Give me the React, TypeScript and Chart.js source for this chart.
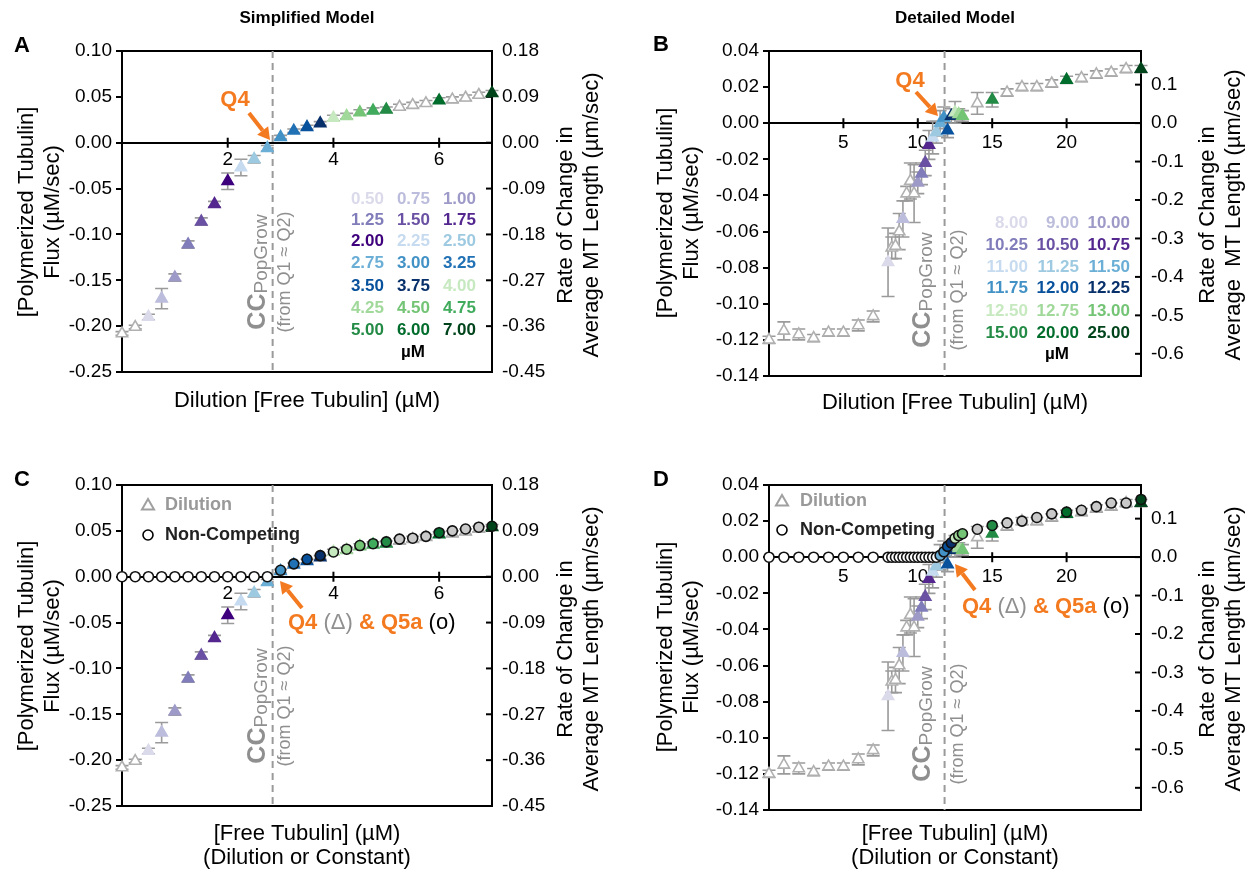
import React, { useEffect, useRef } from "react";
import { Chart, registerables } from "chart.js";
Chart.register(...registerables);

const FONT = '"Liberation Sans", Arial, Helvetica, sans-serif';
const W = 1253;
const H = 874;
const ORANGE = "#f47a20";
const GREY_TXT = "#8f8f8f";

// ---------- Simplified model (panels A, C) ----------
const simpConc = [0, 0.25, 0.5, 0.75, 1, 1.25, 1.5, 1.75, 2, 2.25, 2.5, 2.75, 3, 3.25, 3.5, 3.75, 4, 4.25, 4.5, 4.75, 5, 5.25, 5.5, 5.75, 6, 6.25, 6.5, 6.75, 7];
const simpFlux = [-0.208, -0.201, -0.19, -0.17, -0.147, -0.111, -0.086, -0.067, -0.042, -0.027, -0.018, -0.006, 0.006, 0.013, 0.017, 0.021, 0.027, 0.029, 0.033, 0.035, 0.036, 0.039, 0.041, 0.043, 0.046, 0.047, 0.049, 0.052, 0.054];
const simpErr = [0.002, 0.002, 0.003, 0.011, 0.004, 0.004, 0.004, 0.003, 0.009, 0.009, 0.004, 0.003, 0.002, 0.002, 0.002, 0.002, 0.003, 0.003, 0.003, 0.003, 0.003, 0.003, 0.003, 0.003, 0.003, 0.003, 0.003, 0.003, 0.003];
const simpNcConc = [0, 0.25, 0.5, 0.75, 1, 1.25, 1.5, 1.75, 2, 2.25, 2.5, 2.75, 3, 3.25, 3.5, 3.75, 4, 4.25, 4.5, 4.75, 5, 5.25, 5.5, 5.75, 6, 6.25, 6.5, 6.75, 7];
const simpNcFlux = [0, 0, 0, 0, 0, 0, 0, 0, 0, 0, 0, 0, 0.007, 0.014, 0.019, 0.023, 0.027, 0.03, 0.034, 0.036, 0.038, 0.041, 0.042, 0.044, 0.048, 0.05, 0.052, 0.054, 0.055];
const simpCC = 2.85;
const simpConcTicks = [2, 4, 6];
const simpFluxTicks = [-0.25, -0.2, -0.15, -0.1, -0.05, 0, 0.05, 0.1];
const simpRateTicks = [-0.45, -0.36, -0.27, -0.18, -0.09, 0, 0.09, 0.18];
const simpLegend = [
  ["0.50", "0.75", "1.00"],
  ["1.25", "1.50", "1.75"],
  ["2.00", "2.25", "2.50"],
  ["2.75", "3.00", "3.25"],
  ["3.50", "3.75", "4.00"],
  ["4.25", "4.50", "4.75"],
  ["5.00", "6.00", "7.00"],
];
const simpColors: Record<string, string> = {
  "0.50": "#dadaeb", "0.75": "#bcbddc", "1.00": "#9e9ac8",
  "1.25": "#807dba", "1.50": "#6a51a3", "1.75": "#54278f",
  "2.00": "#3f007d", "2.25": "#c6dbef", "2.50": "#9ecae1",
  "2.75": "#6baed6", "3.00": "#4292c6", "3.25": "#2171b5",
  "3.50": "#08519c", "3.75": "#08306b", "4.00": "#c7e9c0",
  "4.25": "#a1d99b", "4.50": "#74c476", "4.75": "#41ab5d",
  "5.00": "#238b45", "6.00": "#006d2c", "7.00": "#00441b",
};

// ---------- Detailed model (panels B, D) ----------
const detConc = [0, 1, 2, 3, 4, 5, 6, 7, 8, 8.25, 8.5, 8.75, 9, 9.25, 9.5, 9.75, 10, 10.25, 10.5, 10.75, 11, 11.25, 11.5, 11.75, 12, 12.25, 12.5, 12.75, 13, 14, 15, 16, 17, 18, 19, 20, 21, 22, 23, 24, 25];
const detFlux = [-0.12, -0.115, -0.117, -0.119, -0.116, -0.116, -0.112, -0.107, -0.077, -0.069, -0.068, -0.06, -0.053, -0.039, -0.032, -0.039, -0.033, -0.028, -0.022, -0.012, -0.008, -0.005, 0.0, 0.003, -0.004, 0.004, 0.006, 0.005, 0.004, 0.011, 0.013, 0.017, 0.02, 0.02, 0.022, 0.024, 0.025, 0.027, 0.028, 0.03, 0.03];
const detErr = [0.002, 0.005, 0.003, 0.002, 0.002, 0.002, 0.003, 0.003, 0.019, 0.006, 0.007, 0.01, 0.01, 0.004, 0.01, 0.016, 0.006, 0.006, 0.007, 0.008, 0.009, 0.006, 0.007, 0.006, 0.004, 0.004, 0.006, 0.003, 0.003, 0.006, 0.004, 0.002, 0.002, 0.002, 0.002, 0.002, 0.002, 0.002, 0.002, 0.002, 0.002];
const detNcConc = [0, 1, 2, 3, 4, 5, 6, 7, 8, 8.25, 8.5, 8.75, 9, 9.25, 9.5, 9.75, 10, 10.25, 10.5, 10.75, 11, 11.25, 11.5, 11.75, 12, 12.25, 12.5, 12.75, 13, 14, 15, 16, 17, 18, 19, 20, 21, 22, 23, 24, 25];
const detNcFlux = [0, 0, 0, 0, 0, 0, 0, 0, 0, 0, 0, 0, 0, 0, 0, 0, 0, 0, 0, 0, 0, 0, 0.001, 0.003, 0.006, 0.008, 0.0105, 0.012, 0.013, 0.0155, 0.0176, 0.019, 0.02, 0.022, 0.024, 0.025, 0.026, 0.028, 0.03, 0.03, 0.032];
const detCC = 11.8;
const detConcTicks = [5, 10, 15, 20];
const detFluxTicks = [-0.14, -0.12, -0.1, -0.08, -0.06, -0.04, -0.02, 0, 0.02, 0.04];
const detRateTicks = [-0.6, -0.5, -0.4, -0.3, -0.2, -0.1, 0, 0.1];
const detLegend = [
  ["8.00", "9.00", "10.00"],
  ["10.25", "10.50", "10.75"],
  ["11.00", "11.25", "11.50"],
  ["11.75", "12.00", "12.25"],
  ["12.50", "12.75", "13.00"],
  ["15.00", "20.00", "25.00"],
];
const detColors: Record<string, string> = {
  "8.00": "#dadaeb", "9.00": "#bcbddc", "10.00": "#9e9ac8",
  "10.25": "#807dba", "10.50": "#6a51a3", "10.75": "#54278f",
  "11.00": "#c6dbef", "11.25": "#9ecae1", "11.50": "#6baed6",
  "11.75": "#4292c6", "12.00": "#08519c", "12.25": "#08306b",
  "12.50": "#c7e9c0", "12.75": "#a1d99b", "13.00": "#74c476",
  "15.00": "#238b45", "20.00": "#006d2c", "25.00": "#00441b",
};

type Area = { left: number; right: number; top: number; bottom: number };
type Spec = {
  area: Area;
  xMax: number;
  xTicks: number[];
  xPad: number;
  yMin: number; yMax: number; yTicks: number[]; yDigits: number;
  y1Min: number; y1Max: number; y1Ticks: number[]; y1Digits: number;
  conc: number[]; flux: number[]; err: number[];
  colors: Record<string, string>;
  nc?: { conc: number[]; flux: number[] };
  cc: number;
  ccText: { x1: number; x2: number; y: number };
  letter: { t: string; x: number; y: number };
  title?: { t: string; x: number; y: number };
  leftTitle: { xs: number[]; y: number };
  rightTitle: { lines: string[]; xs: number[]; y: number };
  bottom: { t: string; x: number; y: number }[];
  table?: { rows: string[][]; right: number[]; rowY: number[]; unit: { x: number; y: number } };
  q4?: { x: number; y: number; a: number[] };
  q45?: { x: number; y: number; a: number[] };
  legend?: { x: number; ty: number; cy: number; tx: number };
};

function drawText(ctx: CanvasRenderingContext2D, text: string, x: number, y: number, size: number, o: any = {}) {
  ctx.save();
  ctx.font = `${o.bold ? "bold " : ""}${size}px ${FONT}`;
  ctx.fillStyle = o.color || "#000";
  ctx.textAlign = o.align || "center";
  ctx.textBaseline = "middle";
  ctx.translate(x, y);
  if (o.rotate) ctx.rotate(-Math.PI / 2);
  ctx.fillText(text, 0, 0);
  ctx.restore();
}

function drawArrow(ctx: CanvasRenderingContext2D, a: number[]) {
  const [x1, y1, x2, y2] = a;
  const ang = Math.atan2(y2 - y1, x2 - x1);
  const head = 12, hw = 7;
  const bx = x2 - head * Math.cos(ang), by = y2 - head * Math.sin(ang);
  ctx.save();
  ctx.strokeStyle = ORANGE; ctx.fillStyle = ORANGE; ctx.lineWidth = 4;
  ctx.beginPath(); ctx.moveTo(x1, y1); ctx.lineTo(bx, by); ctx.stroke();
  ctx.beginPath();
  ctx.moveTo(x2, y2);
  ctx.lineTo(bx + hw * Math.sin(ang), by - hw * Math.cos(ang));
  ctx.lineTo(bx - hw * Math.sin(ang), by + hw * Math.cos(ang));
  ctx.closePath(); ctx.fill();
  ctx.restore();
}

function drawTriangle(ctx: CanvasRenderingContext2D, x: number, y: number, r: number, stroke: string) {
  ctx.save();
  ctx.strokeStyle = stroke; ctx.lineWidth = 2; ctx.fillStyle = "#fff";
  ctx.beginPath();
  ctx.moveTo(x, y - r);
  ctx.lineTo(x + r * 0.866, y + r / 2);
  ctx.lineTo(x - r * 0.866, y + r / 2);
  ctx.closePath(); ctx.fill(); ctx.stroke();
  ctx.restore();
}

function makePlugin(s: Spec) {
  return {
    id: "deco",
    beforeDatasetsDraw(chart: any) {
      const ctx: CanvasRenderingContext2D = chart.ctx;
      const a = chart.chartArea;
      const xs = chart.scales.x, ys = chart.scales.y, y1 = chart.scales.y1;
      ctx.save();
      ctx.strokeStyle = "#000"; ctx.lineWidth = 2;
      ctx.strokeRect(a.left, a.top, a.right - a.left, a.bottom - a.top);
      for (const v of s.y1Ticks) {
        const py = y1.getPixelForValue(v);
        ctx.beginPath(); ctx.moveTo(a.right - 6, py); ctx.lineTo(a.right, py); ctx.stroke();
      }
      const y0 = ys.getPixelForValue(0);
      for (const v of s.xTicks) {
        const px = xs.getPixelForValue(v);
        ctx.beginPath(); ctx.moveTo(px, y0 - 5); ctx.lineTo(px, y0 + 5); ctx.stroke();
      }
      const cx = xs.getPixelForValue(s.cc);
      ctx.strokeStyle = "#9a9a9a"; ctx.lineWidth = 2; ctx.setLineDash([7, 5]);
      ctx.beginPath(); ctx.moveTo(cx, a.top); ctx.lineTo(cx, a.bottom); ctx.stroke();
      ctx.setLineDash([]);
      ctx.strokeStyle = "#9a9a9a"; ctx.lineWidth = 1.6;
      s.conc.forEach((c, i) => {
        const e = s.err[i];
        const px = xs.getPixelForValue(c);
        const pt = ys.getPixelForValue(s.flux[i] + e);
        const pb = ys.getPixelForValue(s.flux[i] - e);
        ctx.beginPath();
        ctx.moveTo(px, pt); ctx.lineTo(px, pb);
        ctx.moveTo(px - 6.5, pt); ctx.lineTo(px + 6.5, pt);
        ctx.moveTo(px - 6.5, pb); ctx.lineTo(px + 6.5, pb);
        ctx.stroke();
      });
      ctx.restore();
    },
    afterDraw(chart: any) {
      const ctx: CanvasRenderingContext2D = chart.ctx;
      if (s.title) drawText(ctx, s.title.t, s.title.x, s.title.y, 17, { bold: true });
      drawText(ctx, s.letter.t, s.letter.x, s.letter.y, 22, { bold: true });
      drawText(ctx, "[Polymerized Tubulin]", s.leftTitle.xs[0], s.leftTitle.y, 22, { rotate: true });
      drawText(ctx, "Flux (µM/sec)", s.leftTitle.xs[1], s.leftTitle.y, 22, { rotate: true });
      drawText(ctx, s.rightTitle.lines[0], s.rightTitle.xs[0], s.rightTitle.y, 22, { rotate: true });
      drawText(ctx, s.rightTitle.lines[1], s.rightTitle.xs[1], s.rightTitle.y, 22, { rotate: true });
      for (const b of s.bottom) drawText(ctx, b.t, b.x, b.y, 22);

      ctx.save();
      ctx.translate(s.ccText.x1, s.ccText.y);
      ctx.rotate(-Math.PI / 2);
      ctx.fillStyle = GREY_TXT; ctx.textBaseline = "middle"; ctx.textAlign = "left";
      ctx.font = `bold 25px ${FONT}`;
      const w1 = ctx.measureText("CC").width;
      ctx.font = `19px ${FONT}`;
      const w2 = ctx.measureText("PopGrow").width;
      const st = -(w1 + w2) / 2;
      ctx.font = `bold 25px ${FONT}`;
      ctx.fillText("CC", st, 0);
      ctx.font = `19px ${FONT}`;
      ctx.fillText("PopGrow", st + w1, 4);
      ctx.restore();
      drawText(ctx, "(from Q1 ≈ Q2)", s.ccText.x2, s.ccText.y, 18, { rotate: true, color: GREY_TXT });

      if (s.table) {
        const t = s.table;
        t.rows.forEach((row, r) => {
          row.forEach((lab, c) => {
            drawText(ctx, lab, t.right[c], t.rowY[r], 17, { bold: true, align: "right", color: s.colors[lab] });
          });
        });
        drawText(ctx, "µM", t.unit.x, t.unit.y, 17, { bold: true });
      }
      if (s.q4) {
        drawText(ctx, "Q4", s.q4.x, s.q4.y, 22, { bold: true, color: ORANGE });
        drawArrow(ctx, s.q4.a);
      }
      if (s.q45) {
        const segs = [
          { t: "Q4", b: true, c: ORANGE },
          { t: " (", b: false, c: GREY_TXT },
          { t: "Δ", b: false, c: GREY_TXT },
          { t: ")", b: false, c: GREY_TXT },
          { t: " & Q5a", b: true, c: ORANGE },
          { t: " (o)", b: false, c: "#000" },
        ];
        let x = s.q45.x;
        ctx.save();
        ctx.textBaseline = "middle"; ctx.textAlign = "left";
        for (const g of segs) {
          ctx.font = `${g.b ? "bold " : ""}22px ${FONT}`;
          ctx.fillStyle = g.c;
          ctx.fillText(g.t, x, s.q45.y);
          x += ctx.measureText(g.t).width;
        }
        ctx.restore();
        drawArrow(ctx, s.q45.a);
      }
      if (s.legend) {
        const l = s.legend;
        drawTriangle(ctx, l.x, l.ty + 1, 7, "#a0a0a0");
        drawText(ctx, "Dilution", l.tx, l.ty, 18, { bold: true, align: "left", color: "#999" });
        ctx.save();
        ctx.strokeStyle = "#000"; ctx.lineWidth = 1.6; ctx.fillStyle = "#fff";
        ctx.beginPath(); ctx.arc(l.x, l.cy, 5, 0, Math.PI * 2); ctx.fill(); ctx.stroke();
        ctx.restore();
        drawText(ctx, "Non-Competing", l.tx, l.cy, 18, { bold: true, align: "left", color: "#222" });
      }
    },
  };
}

function buildConfig(s: Spec): any {
  const key = (c: number) => c.toFixed(2);
  const datasets: any[] = [];
  if (s.nc) {
    const nc = s.nc;
    datasets.push({
      label: "Non-Competing",
      data: nc.conc.map((c, i) => ({ x: c, y: nc.flux[i] })),
      pointStyle: "circle",
      pointRadius: 5,
      pointBorderWidth: 1.6,
      pointBorderColor: "#111",
      pointBackgroundColor: nc.conc.map((c, i) => (nc.flux[i] === 0 ? "#ffffff" : s.colors[key(c)] || "#c9c9c9")),
      showLine: false,
      clip: false,
    });
  }
  datasets.push({
    label: "Dilution",
    data: s.conc.map((c, i) => ({ x: c, y: s.flux[i] })),
    pointStyle: "triangle",
    pointRadius: 6.5,
    pointBorderWidth: 1.6,
    pointBackgroundColor: s.conc.map((c) => s.colors[key(c)] || "#ffffff"),
    pointBorderColor: s.conc.map((c) => s.colors[key(c)] || "#b0b0b0"),
    showLine: false,
    clip: false,
  });
  const tickFont = { family: FONT, size: 19 };
  return {
    type: "scatter",
    data: { datasets },
    options: {
      animation: false,
      responsive: false,
      events: [],
      layout: { padding: { left: 0, right: 0, top: s.area.top, bottom: H - s.area.bottom } },
      plugins: { legend: { display: false }, tooltip: { enabled: false }, title: { display: false } },
      scales: {
        x: {
          type: "linear",
          position: { y: 0 },
          min: 0,
          max: s.xMax,
          afterBuildTicks: (sc: any) => { sc.ticks = s.xTicks.map((v) => ({ value: v })); },
          afterFit: (sc: any) => { sc.height = 0; },
          grid: { drawOnChartArea: false, drawTicks: false },
          border: { display: true, color: "#000", width: 2 },
          ticks: { padding: s.xPad, color: "#000", font: tickFont, callback: (v: any) => String(v) },
        },
        y: {
          type: "linear",
          position: "left",
          min: s.yMin,
          max: s.yMax,
          afterBuildTicks: (sc: any) => { sc.ticks = s.yTicks.map((v) => ({ value: v })); },
          afterFit: (sc: any) => { sc.width = s.area.left; },
          grid: { drawOnChartArea: false, drawTicks: true, tickLength: 6, color: "#000", lineWidth: 2 },
          border: { display: false },
          ticks: { padding: 4, color: "#000", font: tickFont, callback: (v: any) => Number(v).toFixed(s.yDigits) },
        },
        y1: {
          type: "linear",
          position: "right",
          min: s.y1Min,
          max: s.y1Max,
          afterBuildTicks: (sc: any) => { sc.ticks = s.y1Ticks.map((v) => ({ value: v })); },
          afterFit: (sc: any) => { sc.width = W - s.area.right; },
          grid: { display: false, drawTicks: false, drawOnChartArea: false },
          border: { display: false },
          ticks: { padding: 10, color: "#000", font: tickFont, callback: (v: any) => Number(v).toFixed(s.y1Digits) },
        },
      },
    },
    plugins: [makePlugin(s)],
  };
}

const simpBase = {
  xMax: 7, xTicks: simpConcTicks, xPad: 6,
  yMin: -0.25, yMax: 0.1, yTicks: simpFluxTicks, yDigits: 2,
  y1Min: -0.45, y1Max: 0.18, y1Ticks: simpRateTicks, y1Digits: 2,
  conc: simpConc, flux: simpFlux, err: simpErr, colors: simpColors, cc: simpCC,
};
const detBase = {
  xMax: 25, xTicks: detConcTicks, xPad: 8,
  yMin: -0.14, yMax: 0.04, yTicks: detFluxTicks, yDigits: 2,
  y1Min: -0.6577, y1Max: 0.1875, y1Ticks: detRateTicks, y1Digits: 1,
  conc: detConc, flux: detFlux, err: detErr, colors: detColors, cc: detCC,
};

const specs: Spec[] = [
  {
    ...simpBase,
    area: { left: 122, right: 492, top: 51, bottom: 372 },
    ccText: { x1: 258, x2: 285, y: 272 },
    letter: { t: "A", x: 22, y: 46 },
    title: { t: "Simplified Model", x: 307, y: 18 },
    leftTitle: { xs: [27, 53], y: 212 },
    rightTitle: { lines: ["Rate of Change in", "Average MT Length (µm/sec)"], xs: [566, 592], y: 215 },
    bottom: [{ t: "Dilution [Free Tubulin] (µM)", x: 307, y: 401 }],
    table: { rows: simpLegend, right: [384, 430, 476], rowY: [199, 220, 241, 263, 286, 308, 330], unit: { x: 413, y: 352 } },
    q4: { x: 235, y: 100, a: [249, 113, 270, 140] },
  },
  {
    ...detBase,
    area: { left: 769, right: 1141, top: 51, bottom: 376 },
    ccText: { x1: 923, x2: 958, y: 290 },
    letter: { t: "B", x: 661, y: 45 },
    title: { t: "Detailed Model", x: 955, y: 18 },
    leftTitle: { xs: [666, 692], y: 213 },
    rightTitle: { lines: ["Rate of Change in", "Average  MT Length (µm/sec)"], xs: [1208, 1234], y: 215 },
    bottom: [{ t: "Dilution [Free Tubulin] (µM)", x: 955, y: 403 }],
    table: { rows: detLegend, right: [1028, 1079, 1130], rowY: [223, 245, 267, 288, 311, 333], unit: { x: 1057, y: 354 } },
    q4: { x: 910, y: 81, a: [916, 92, 938, 116] },
  },
  {
    ...simpBase,
    area: { left: 122, right: 492, top: 485, bottom: 806 },
    nc: { conc: simpNcConc, flux: simpNcFlux },
    ccText: { x1: 258, x2: 285, y: 706 },
    letter: { t: "C", x: 22, y: 480 },
    leftTitle: { xs: [27, 53], y: 646 },
    rightTitle: { lines: ["Rate of Change in", "Average MT Length (µm/sec)"], xs: [566, 592], y: 649 },
    bottom: [
      { t: "[Free Tubulin] (µM)", x: 307, y: 834 },
      { t: "(Dilution or Constant)", x: 307, y: 858 },
    ],
    q45: { x: 288, y: 623, a: [302, 608, 280, 581] },
    legend: { x: 148, ty: 505, cy: 535, tx: 165 },
  },
  {
    ...detBase,
    area: { left: 769, right: 1141, top: 485, bottom: 810 },
    nc: { conc: detNcConc, flux: detNcFlux },
    ccText: { x1: 923, x2: 958, y: 724 },
    letter: { t: "D", x: 661, y: 480 },
    leftTitle: { xs: [666, 692], y: 647 },
    rightTitle: { lines: ["Rate of Change in", "Average MT Length (µm/sec)"], xs: [1208, 1234], y: 649 },
    bottom: [
      { t: "[Free Tubulin] (µM)", x: 955, y: 834 },
      { t: "(Dilution or Constant)", x: 955, y: 858 },
    ],
    q45: { x: 962, y: 607, a: [975, 590, 955, 564] },
    legend: { x: 782, ty: 501, cy: 530, tx: 800 },
  },
];

function Panel({ spec }: { spec: Spec }) {
  const ref = useRef<HTMLCanvasElement>(null);
  useEffect(() => {
    if (!ref.current) return;
    const chart = new Chart(ref.current, buildConfig(spec));
    return () => chart.destroy();
  }, [spec]);
  return (
    <canvas
      ref={ref}
      width={W}
      height={H}
      style={{ position: "absolute", left: 0, top: 0, width: W, height: H }}
    />
  );
}

export default function App() {
  return (
    <div style={{ position: "absolute", left: 0, top: 0, width: W, height: H, background: "#fff", overflow: "hidden" }}>
      {specs.map((s, i) => (
        <Panel key={i} spec={s} />
      ))}
    </div>
  );
}
